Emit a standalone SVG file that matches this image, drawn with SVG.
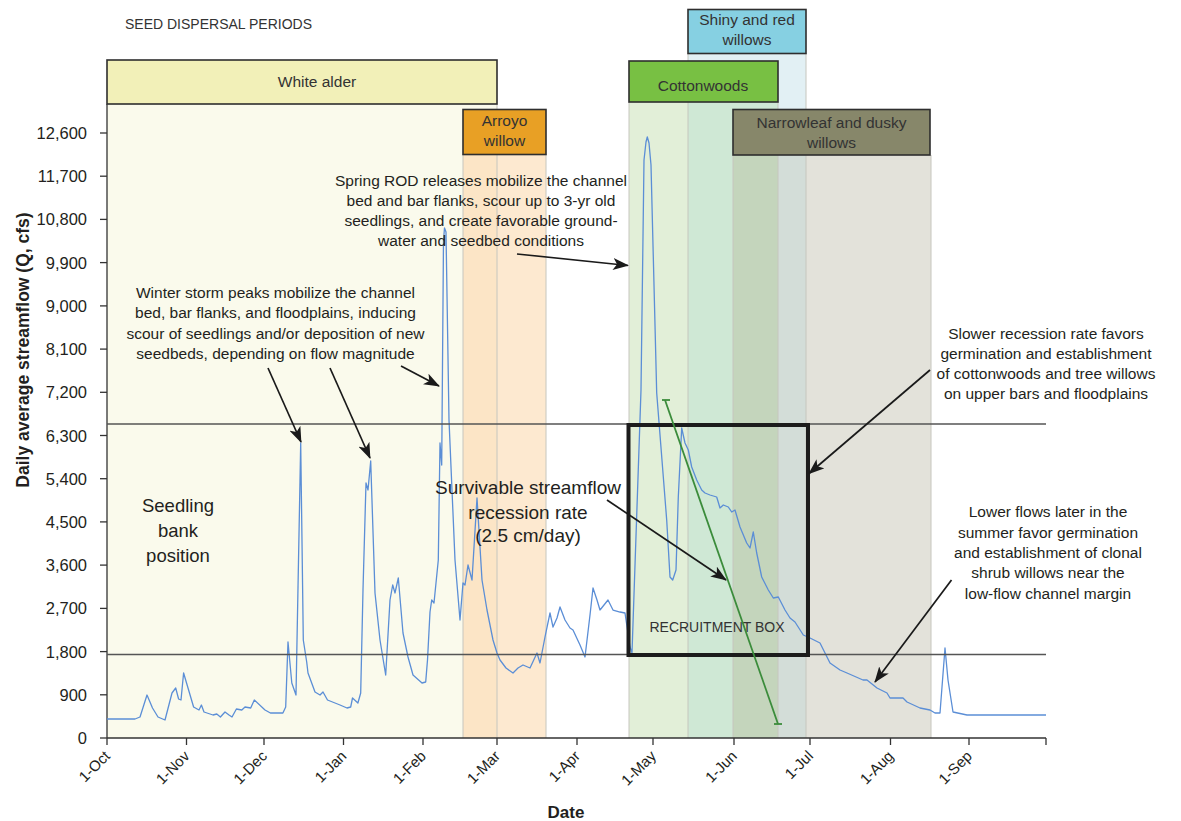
<svg xmlns="http://www.w3.org/2000/svg" width="1181" height="821" viewBox="0 0 1181 821">
<style>
text{font-family:"Liberation Sans",Arial,sans-serif;fill:#231f20}
.ann{font-size:15.5px;text-anchor:middle}
.box{stroke:#2e2e2e;stroke-width:1.6}
.blab{font-size:15.5px;text-anchor:middle;fill:#333}
.edge{stroke:#c6c6be;stroke-width:1}
.ytl{font-size:16.5px;text-anchor:end}
.xtl{font-size:15px;text-anchor:end}
.tick{stroke:#333;stroke-width:1.3}
.ref{stroke:#555;stroke-width:1.3}
.conn{stroke:#1a1a1a;stroke-width:1.7;fill:none;marker-end:url(#ah)}
</style>
<defs>
<marker id="ah" markerUnits="userSpaceOnUse" markerWidth="16" markerHeight="12" refX="15" refY="6" orient="auto" viewBox="0 0 16 12">
<path d="M0,0 L16,6 L0,12 L4,6 z" fill="#1a1a1a"/>
</marker>
</defs>
<rect width="1181" height="821" fill="#fff"/>
<g id="bands">
<rect x="107" y="104" width="390" height="634" fill="#fafaec"/>
<rect x="463" y="154" width="34" height="584" fill="#fce5c6"/>
<rect x="497" y="154" width="49" height="584" fill="#fde9d0"/>
<rect x="688" y="53" width="118" height="685" fill="#e2f0f4"/>
<rect x="629" y="102" width="59" height="636" fill="#e2efd8"/>
<rect x="688" y="102" width="90" height="636" fill="#cfe8d5"/>
<rect x="733" y="155" width="45" height="583" fill="#c4d5bc"/>
<rect x="778" y="155" width="28" height="583" fill="#d3ddd8"/>
<rect x="806" y="155" width="125" height="583" fill="#e3e2da"/>
<line class="edge" x1="463" y1="154" x2="463" y2="738"/>
<line class="edge" x1="497" y1="104" x2="497" y2="738"/>
<line class="edge" x1="546" y1="154" x2="546" y2="738"/>
<line class="edge" x1="629" y1="102" x2="629" y2="738"/>
<line class="edge" x1="688" y1="53" x2="688" y2="738"/>
<line class="edge" x1="733" y1="155" x2="733" y2="738"/>
<line class="edge" x1="778" y1="102" x2="778" y2="738"/>
<line class="edge" x1="806" y1="53" x2="806" y2="738"/>
<line class="edge" x1="931" y1="155" x2="931" y2="738"/>
</g>
<text x="125" y="28.5" style="font-size:14px;fill:#333">SEED DISPERSAL PERIODS</text>
<g id="node-white-alder">
<rect class="box" x="107" y="60" width="390" height="44" fill="#f2f0b8"/>
<text class="blab" x="317" y="86.5">White alder</text>
</g>
<g id="node-arroyo-willow">
<rect class="box" x="463" y="109.5" width="83" height="45" fill="#e8a025"/>
<text class="blab" x="504.5" y="126">Arroyo</text>
<text class="blab" x="504.5" y="146">willow</text>
</g>
<g id="node-shiny-red-willows">
<rect class="box" x="688" y="9.5" width="118" height="44" fill="#86d0e2"/>
<text class="blab" x="747" y="24.5">Shiny and red</text>
<text class="blab" x="747" y="44.5">willows</text>
</g>
<g id="node-cottonwoods">
<rect class="box" x="629" y="61" width="149" height="41" fill="#78c043"/>
<text class="blab" x="703" y="91">Cottonwoods</text>
</g>
<g id="node-narrowleaf-dusky-willows">
<rect class="box" x="733" y="109.5" width="197" height="45.5" fill="#87876a"/>
<text class="blab" x="831.5" y="128">Narrowleaf and dusky</text>
<text class="blab" x="831.5" y="148">willows</text>
</g>
<g id="axes">
<line x1="107" y1="104" x2="107" y2="738" stroke="#333" stroke-width="1.3"/>
<line x1="107" y1="738" x2="1046" y2="738" stroke="#333" stroke-width="1.5"/>
<g class="tick">
<line x1="100" y1="738" x2="107" y2="738"/><line x1="100" y1="694.8" x2="107" y2="694.8"/><line x1="100" y1="651.6" x2="107" y2="651.6"/><line x1="100" y1="608.4" x2="107" y2="608.4"/><line x1="100" y1="565.1" x2="107" y2="565.1"/><line x1="100" y1="521.9" x2="107" y2="521.9"/><line x1="100" y1="478.7" x2="107" y2="478.7"/><line x1="100" y1="435.5" x2="107" y2="435.5"/><line x1="100" y1="392.3" x2="107" y2="392.3"/><line x1="100" y1="349.1" x2="107" y2="349.1"/><line x1="100" y1="305.9" x2="107" y2="305.9"/><line x1="100" y1="262.6" x2="107" y2="262.6"/><line x1="100" y1="219.4" x2="107" y2="219.4"/><line x1="100" y1="176.2" x2="107" y2="176.2"/><line x1="100" y1="133" x2="107" y2="133"/>
<line x1="107" y1="738" x2="107" y2="745"/><line x1="186.5" y1="738" x2="186.5" y2="745"/><line x1="264" y1="738" x2="264" y2="745"/><line x1="343.5" y1="738" x2="343.5" y2="745"/><line x1="423" y1="738" x2="423" y2="745"/><line x1="497" y1="738" x2="497" y2="745"/><line x1="577" y1="738" x2="577" y2="745"/><line x1="653" y1="738" x2="653" y2="745"/><line x1="734" y1="738" x2="734" y2="745"/><line x1="810" y1="738" x2="810" y2="745"/><line x1="890.5" y1="738" x2="890.5" y2="745"/><line x1="969" y1="738" x2="969" y2="745"/><line x1="1046" y1="738" x2="1046" y2="745"/>
</g>
<text class="ytl" x="87" y="744">0</text>
<text class="ytl" x="87" y="700.8">900</text>
<text class="ytl" x="87" y="657.6">1,800</text>
<text class="ytl" x="87" y="614.4">2,700</text>
<text class="ytl" x="87" y="571.1">3,600</text>
<text class="ytl" x="87" y="527.9">4,500</text>
<text class="ytl" x="87" y="484.7">5,400</text>
<text class="ytl" x="87" y="441.5">6,300</text>
<text class="ytl" x="87" y="398.3">7,200</text>
<text class="ytl" x="87" y="355.1">8,100</text>
<text class="ytl" x="87" y="311.9">9,000</text>
<text class="ytl" x="87" y="268.6">9,900</text>
<text class="ytl" x="87" y="225.4">10,800</text>
<text class="ytl" x="87" y="182.2">11,700</text>
<text class="ytl" x="87" y="139">12,600</text>
<text class="xtl" transform="translate(111,757) rotate(-45)">1-Oct</text>
<text class="xtl" transform="translate(190.5,757) rotate(-45)">1-Nov</text>
<text class="xtl" transform="translate(268,757) rotate(-45)">1-Dec</text>
<text class="xtl" transform="translate(347.5,757) rotate(-45)">1-Jan</text>
<text class="xtl" transform="translate(427,757) rotate(-45)">1-Feb</text>
<text class="xtl" transform="translate(501,757) rotate(-45)">1-Mar</text>
<text class="xtl" transform="translate(581,757) rotate(-45)">1-Apr</text>
<text class="xtl" transform="translate(657,757) rotate(-45)">1-May</text>
<text class="xtl" transform="translate(738,757) rotate(-45)">1-Jun</text>
<text class="xtl" transform="translate(814,757) rotate(-45)">1-Jul</text>
<text class="xtl" transform="translate(894.5,757) rotate(-45)">1-Aug</text>
<text class="xtl" transform="translate(973,757) rotate(-45)">1-Sep</text>
<text transform="translate(29,350) rotate(-90)" style="font-size:17.5px;font-weight:bold;text-anchor:middle">Daily average streamflow (Q, cfs)</text>
<text x="566" y="818" style="font-size:17px;font-weight:bold;text-anchor:middle">Date</text>
</g>
<g id="hydrograph">
<polyline fill="none" stroke="#5b8ed6" stroke-width="1.3" stroke-linejoin="round" points="107,719 135,719 140,717 147,695 152.5,708 158,717 165,720 172,693 175.7,688 178.6,699 181,700 183.6,673 193.6,707 199,710 201.4,705 204,712 213,715 216.8,714 220.4,717 225,712 229,715 232,717 236.4,709 241.8,710 245,707 250.7,708 254.3,700 265,710 270.4,713 282.9,713 285.7,707 288,642 291.8,683 296,695 300.7,443 303.3,640 306.7,662 308,673 315,692 320,695 323,692 327.5,700 340,705 347,708 350.7,707 352.5,698 357.9,703 360.7,693 363,590 366,483 368,490 370.7,461 375,593 380,640 385.7,675 390,600 392.7,585 395,593 398.3,578 403,633 408,657 413,675 422,683 425.7,682 427.5,660 430,612 431.7,600 434,603 438.3,560 440,443 441.7,465 443.5,240 444.5,228 446,232 449,420 455,560 460,620 463,583 465,585 468,565 472,580 477,498 482,580 487,610 493,640 497,653 500,660 506,668 513,673 518,668 523,665 530,668 537,653 540,663 545,637 550,613 553,627 557,618 560,607 565,620 570,628 573,630 580,645 585,657 590,615 593,588 597,600 600,610 604,605 608,600 613,610 620,612 625,613 630,647 632,653 641,390 644,160 646,142 647.3,137 649,143 651,165 656.7,393 666.7,520 670,577 672.7,580 676,570 678.3,497 681.7,428 685,443 688.3,450 691.7,467 696.7,480 701.7,490 705,493 710,495 716.7,497 720,508 723.3,505 728.3,507 731.7,512 735,510 740,527 746.7,543 750,548 753.3,532 756.7,553 761.7,577 768.3,590 773.3,598 778.3,597 785,610 790,618 795,622 803.3,635 810,638 820,643 827,657 830,663 840,670 847,673 863,680 867,680 877,688 887,693 890,698 903,698 907,702 920,708 930,710 935,713 940,713 945,648 948,680 953,712 967,715 1046,715"/>
</g>
<g id="reference-lines">
<line class="ref" x1="107" y1="424" x2="1046" y2="424"/>
<line class="ref" x1="107" y1="654.5" x2="1046" y2="654.5"/>
</g>
<g id="node-recruitment-box">
<rect x="628.5" y="425" width="179.5" height="230" fill="none" stroke="#1c1c1c" stroke-width="4"/>
<text x="717" y="632" style="font-size:14px;text-anchor:middle;fill:#333">RECRUITMENT BOX</text>
</g>
<g id="node-recession-rate-line" stroke="#3b8c3b" stroke-width="1.8">
<line x1="665" y1="400" x2="778" y2="724"/>
<line x1="662" y1="400" x2="670" y2="400"/>
<line x1="774" y1="724" x2="782" y2="724"/>
</g>
<g id="node-seedling-bank">
<text x="178" y="511.5" style="font-size:18.5px;text-anchor:middle">Seedling</text>
<text x="178" y="536.5" style="font-size:18.5px;text-anchor:middle">bank</text>
<text x="178" y="561.5" style="font-size:18.5px;text-anchor:middle">position</text>
</g>
<g id="node-survivable-rate">
<text x="528" y="493.5" style="font-size:19px;text-anchor:middle">Survivable streamflow</text>
<text x="528" y="518.5" style="font-size:19px;text-anchor:middle">recession rate</text>
<text x="528" y="542" style="font-size:19px;text-anchor:middle">(2.5 cm/day)</text>
</g>
<g id="node-spring-rod">
<text class="ann" x="481" y="185.5">Spring ROD releases mobilize the channel</text>
<text class="ann" x="481" y="205.5">bed and bar flanks, scour up to 3-yr old</text>
<text class="ann" x="481" y="225.5">seedlings, and create favorable ground-</text>
<text class="ann" x="481" y="245.5">water and seedbed conditions</text>
</g>
<g id="node-winter-storm">
<text class="ann" x="275.5" y="297.5">Winter storm peaks mobilize the channel</text>
<text class="ann" x="275.5" y="318">bed, bar flanks, and floodplains, inducing</text>
<text class="ann" x="275.5" y="338.5">scour of seedlings and/or deposition of new</text>
<text class="ann" x="275.5" y="359">seedbeds, depending on flow magnitude</text>
</g>
<g id="node-slower-recession">
<text class="ann" x="1046" y="339">Slower recession rate favors</text>
<text class="ann" x="1046" y="359">germination and establishment</text>
<text class="ann" x="1046" y="379">of cottonwoods and tree willows</text>
<text class="ann" x="1046" y="399">on upper bars and floodplains</text>
</g>
<g id="node-lower-flows">
<text class="ann" x="1048" y="517">Lower flows later in the</text>
<text class="ann" x="1048" y="537.5">summer favor germination</text>
<text class="ann" x="1048" y="557.5">and establishment of clonal</text>
<text class="ann" x="1048" y="578">shrub willows near the</text>
<text class="ann" x="1048" y="598.5">low-flow channel margin</text>
</g>
<g id="connectors">
<line class="conn" x1="517" y1="254" x2="628" y2="265.5"/>
<line class="conn" x1="268" y1="368" x2="301" y2="442"/>
<line class="conn" x1="330" y1="368" x2="370" y2="458"/>
<line class="conn" x1="401" y1="366" x2="439" y2="386"/>
<line class="conn" x1="607" y1="500" x2="726" y2="580"/>
<line class="conn" x1="930" y1="370" x2="809" y2="473.5"/>
<line class="conn" x1="951.5" y1="580" x2="875" y2="682"/>
</g>
</svg>
